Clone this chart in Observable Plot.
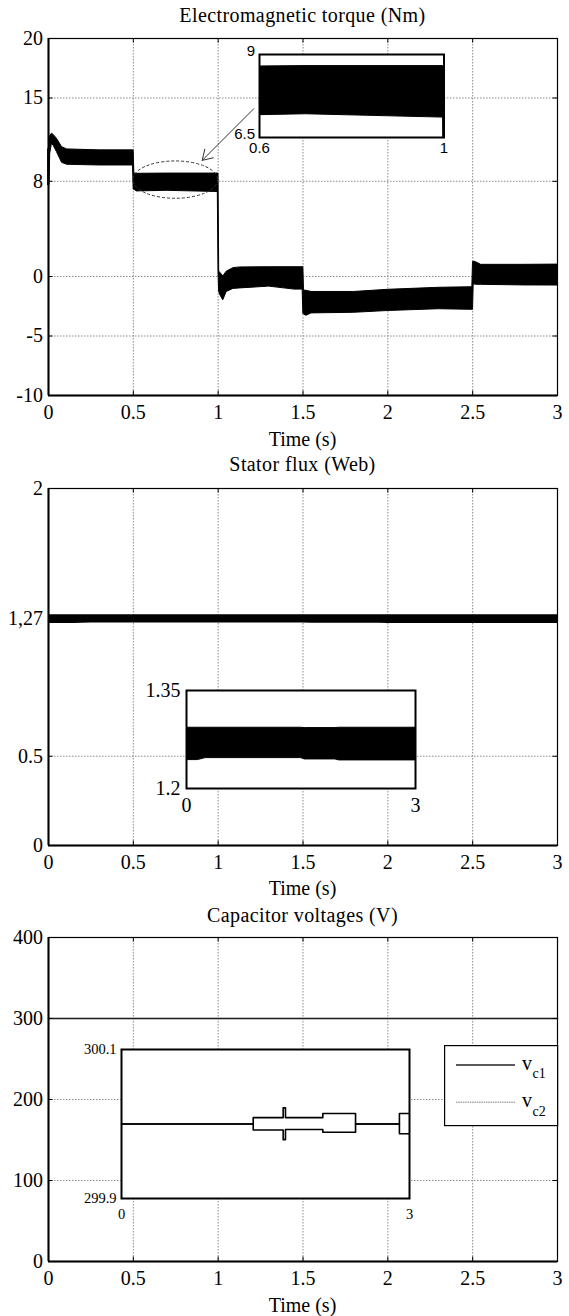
<!DOCTYPE html>
<html>
<head>
<meta charset="utf-8">
<script src="https://cdn.jsdelivr.net/npm/d3@7"></script>
<script src="https://cdn.jsdelivr.net/npm/@observablehq/plot@0.6"></script>
<style>
  html, body { margin: 0; padding: 0; background: #fff; }
  #root { position: relative; width: 569px; height: 1316px; overflow: hidden; font-family: "Liberation Serif", serif; color: #000; }
  .abs { position: absolute; }
  .lbl { position: absolute; left: 48px; width: 509px; text-align: center; font-size: 20px; line-height: 20px; white-space: nowrap; font-family: "Liberation Serif", serif; }
  .ttl { letter-spacing: 0.4px; }
</style>
</head>
<body>
<div id="root"></div>
<script>
// ---------------- DATA ----------------
const timeTicks = [0, 0.5, 1, 1.5, 2, 2.5, 3];

// Electromagnetic torque: envelope of the (dense, chattering) trace
const torqueT    = [0.000, 0.006, 0.010, 0.020, 0.030, 0.050, 0.080, 0.110, 0.300, 0.498, 0.502, 0.506, 0.520, 0.700, 0.998, 1.002, 1.006, 1.014, 1.030, 1.050, 1.090, 1.130, 1.300, 1.450, 1.498, 1.502, 1.506, 1.520, 1.550, 1.800, 2.000, 2.300, 2.498, 2.502, 2.506, 2.520, 2.550, 2.800, 3.000];
const torqueLow  = [7.65, 7.65, 10.3, 11.15, 11.0, 10.45, 9.55, 9.39, 9.33, 9.33, 7.30, 7.30, 7.15, 7.20, 7.10, 0.30, -1.30, -1.60, -2.00, -1.30, -1.04, -1.00, -0.85, -1.10, -1.10, -3.14, -3.20, -3.30, -3.10, -3.05, -2.90, -2.75, -2.80, -2.80, -0.65, -0.70, -0.70, -0.75, -0.76];
const torqueHigh = [10.7, 10.7, 11.8, 12.0, 11.9, 11.57, 10.87, 10.68, 10.6, 10.6, 10.6, 8.65, 8.63, 8.65, 8.65, 8.65, 0.40, 0.30, 0.00, 0.40, 0.70, 0.76, 0.78, 0.78, 0.78, 0.78, -1.18, -1.20, -1.30, -1.30, -1.12, -0.95, -0.90, 1.20, 1.26, 1.20, 0.98, 0.98, 1.00];
const torqueTicks = [-10, -5, 0, 8, 15, 20];
const torqueInsetX = [0.6, 1];
const torqueInsetY = [6.5, 9];
// annotation (data units): dashed ellipse around the 0.5–1 s segment, arrow to the zoom
const ellipseT = [0.5, 1.0];
const ellipseV = [6.53, 9.67];
const arrowFrom = [1.21, 14.1];
const arrowTo = [0.906, 9.76];

// Stator flux envelope
const fluxT    = [0, 0.15, 0.25, 1.5, 1.55, 1.95, 2.0, 3];
const fluxLow  = [1.2435, 1.2435, 1.2465, 1.2465, 1.2445, 1.2445, 1.243, 1.243];
const fluxHigh = [1.293, 1.293, 1.293, 1.293, 1.2925, 1.2925, 1.293, 1.293];
const fluxTicks = [0, 0.5, 1.27, 2];
const fluxTickLabels = ["0", "0.5", "1,27", "2"];
const fluxInsetX = [0, 3];
const fluxInsetY = [1.2, 1.35];

// Capacitor voltages
const vcT = [0, 1.372, 1.372, 1.684, 1.684, 1.708, 1.708, 2.097, 2.097, 2.438, 2.438, 2.895, 2.895, 3.0];
const vc1 = [300.0, 300.0, 300.0085, 300.0085, 300.0216, 300.0216, 300.0085, 300.0085, 300.014, 300.014, 300.0, 300.0, 300.014, 300.014];
const vc2 = [300.0, 300.0, 299.992, 299.992, 299.979, 299.979, 299.9926, 299.9926, 299.989, 299.989, 300.0, 300.0, 299.987, 299.987];
const vcTicks = [0, 100, 200, 300, 400];
const vcInsetX = [0, 3];
const vcInsetY = [299.9, 300.1];
const vcNames = ["c1", "c2"];

// ---------------- LAYOUT ----------------
const root = document.getElementById("root");
const W = 569, ML = 48, MR = 12, MT = 10, MB = 55;
const gridStyle = {stroke: "#8a8a8a", strokeOpacity: 1, strokeWidth: 1, strokeDasharray: "1.5,1.5"};

function place(el, left, top, z) {
  const d = document.createElement("div");
  d.className = "abs";
  d.style.left = left + "px";
  d.style.top = top + "px";
  if (z != null) d.style.zIndex = z;
  d.appendChild(el);
  root.appendChild(d);
  return d;
}
function label(text, centerY, cls) {
  const d = document.createElement("div");
  d.className = "lbl " + (cls || "");
  d.style.top = (centerY - 10) + "px";
  d.textContent = text;
  root.appendChild(d);
}

function panel({top, frameH, yDomain, yTicks, yFmt, marks}) {
  const [y0, y1] = yDomain;
  const tly = 4.5 * (y1 - y0) / frameH;
  const tlx = 4.5 * 3 / (W - ML - MR);
  const svg = Plot.plot({
    width: W, height: MT + frameH + MB,
    marginTop: MT, marginBottom: MB, marginLeft: ML, marginRight: MR,
    style: {background: "transparent", fontFamily: "'Liberation Serif', serif", fontSize: "20px", color: "black", overflow: "visible"},
    x: {domain: [0, 3]},
    y: {domain: yDomain},
    marks: [
      Plot.gridX(timeTicks, gridStyle),
      Plot.gridY(yTicks, gridStyle),
      ...marks,
      Plot.ruleX(timeTicks, {y1: y0, y2: y0 + tly, stroke: "black"}),
      Plot.ruleX(timeTicks, {y1: y1 - tly, y2: y1, stroke: "black"}),
      Plot.ruleY(yTicks, {x1: 0, x2: tlx, stroke: "black"}),
      Plot.ruleY(yTicks, {x1: 3 - tlx, x2: 3, stroke: "black"}),
      Plot.frame({stroke: "black", strokeWidth: 1.2}),
      Plot.ruleX([0], {stroke: "black", strokeWidth: 2}),
      Plot.ruleY([y0], {stroke: "black", strokeWidth: 2}),
      Plot.axisX(timeTicks, {tickSize: 0, tickPadding: 9, tickFormat: d => String(d), label: null, fontSize: 20, fontFamily: "Liberation Serif"}),
      Plot.axisY(yTicks, {tickSize: 0, tickPadding: 5.5, tickFormat: yFmt || (d => String(d)), label: null, fontSize: 20, fontFamily: "Liberation Serif"})
    ]
  });
  place(svg, 0, top - MT, 1);
  return svg;
}

function inset({left, top, w, h, xDomain, yDomain, xTicks, yTicks, yFmt, font, fontSize, padX, padY, dyY, marks}) {
  const ml = 60, mr = 14, mt = 12, mb = 32;
  const svg = Plot.plot({
    width: w + ml + mr, height: h + mt + mb,
    marginTop: mt, marginBottom: mb, marginLeft: ml, marginRight: mr,
    style: {background: "transparent", fontFamily: font, fontSize: fontSize + "px", color: "black", overflow: "visible"},
    x: {domain: xDomain},
    y: {domain: yDomain},
    marks: [
      Plot.frame({fill: "white", stroke: null}),
      ...marks,
      Plot.frame({stroke: "black", strokeWidth: 2}),
      Plot.axisX(xTicks, {tickSize: 0, tickPadding: padX, tickFormat: d => String(d), label: null, fontSize, fontFamily: font}),
      Plot.axisY(yTicks, {tickSize: 0, tickPadding: padY, dy: dyY || 0, tickFormat: yFmt || (d => String(d)), label: null, fontSize, fontFamily: font})
    ]
  });
  place(svg, left - ml, top - mt, 5);
  return svg;
}

// ---------------- PANEL 1: torque ----------------
label("Electromagnetic torque (Nm)", 15, "ttl");
const torqueIdx = {length: torqueT.length};
const p1 = panel({
  top: 38, frameH: 357, yDomain: [-10, 20], yTicks: torqueTicks,
  marks: [
    Plot.areaY(torqueIdx, {x: torqueT, y1: torqueLow, y2: torqueHigh, fill: "black", stroke: "black", strokeWidth: 1}),
    Plot.arrow([0], {x1: () => arrowFrom[0], y1: () => arrowFrom[1], x2: () => arrowTo[0], y2: () => arrowTo[1],
      stroke: "#333", strokeWidth: 1, headLength: 17, headAngle: 64})
  ]
});
{
  const sx = p1.scale("x"), sy = p1.scale("y");
  const cx = (sx.apply(ellipseT[0]) + sx.apply(ellipseT[1])) / 2;
  const cy = (sy.apply(ellipseV[0]) + sy.apply(ellipseV[1])) / 2;
  d3.select(p1).append("ellipse")
    .attr("cx", cx).attr("cy", cy)
    .attr("rx", Math.abs(sx.apply(ellipseT[1]) - sx.apply(ellipseT[0])) / 2)
    .attr("ry", Math.abs(sy.apply(ellipseV[1]) - sy.apply(ellipseV[0])) / 2)
    .attr("fill", "none").attr("stroke", "#333").attr("stroke-width", 1).attr("stroke-dasharray", "3,2");
}
label("Time (s)", 439);

inset({
  left: 258.5, top: 53.5, w: 184.5, h: 83,
  xDomain: [0.6, 1], yDomain: [6.5, 9], xTicks: torqueInsetX, yTicks: torqueInsetY,
  font: "Liberation Sans", fontSize: 15, padX: 5, padY: 4.5, dyY: -3,
  marks: [Plot.areaY(torqueIdx, {x: torqueT, y1: torqueLow, y2: torqueHigh, fill: "black", stroke: "black", strokeWidth: 1, clip: true})]
});

// ---------------- PANEL 2: stator flux ----------------
label("Stator flux (Web)", 464, "ttl");
const fluxIdx = {length: fluxT.length};
panel({
  top: 488, frameH: 357, yDomain: [0, 2], yTicks: fluxTicks,
  yFmt: d => fluxTickLabels[fluxTicks.indexOf(d)],
  marks: [Plot.areaY(fluxIdx, {x: fluxT, y1: fluxLow, y2: fluxHigh, fill: "black"})]
});
label("Time (s)", 888);

inset({
  left: 185.5, top: 690, w: 229, h: 98,
  xDomain: [0, 3], yDomain: [1.2, 1.35], xTicks: fluxInsetX, yTicks: fluxInsetY,
  font: "Liberation Serif", fontSize: 20, padX: 9, padY: 6,
  marks: [Plot.areaY(fluxIdx, {x: fluxT, y1: fluxLow, y2: fluxHigh, fill: "black", stroke: "black", strokeWidth: 1, clip: true})]
});

// ---------------- PANEL 3: capacitor voltages ----------------
label("Capacitor voltages (V)", 915, "ttl");
const vcIdx = {length: vcT.length};
panel({
  top: 937, frameH: 324, yDomain: [0, 400], yTicks: vcTicks,
  marks: [
    Plot.line(vcIdx, {x: vcT, y: vc1, stroke: "black", strokeWidth: 1.6}),
    Plot.line(vcIdx, {x: vcT, y: vc2, stroke: "#222", strokeWidth: 1.2})
  ]
});
label("Time (s)", 1305);

inset({
  left: 121, top: 1048.5, w: 288, h: 149,
  xDomain: [0, 3], yDomain: [299.9, 300.1], xTicks: vcInsetX, yTicks: vcInsetY,
  yFmt: d => d.toFixed(1),
  font: "Liberation Serif", fontSize: 14.5, padX: 10, padY: 5,
  marks: [
    Plot.line(vcIdx, {x: vcT, y: vc1, stroke: "black", strokeWidth: 1.6, clip: true}),
    Plot.line(vcIdx, {x: vcT, y: vc2, stroke: "black", strokeWidth: 1.6, clip: true})
  ]
});

// Legend box (overlaid on the plot, upper right)
{
  const lw = 113, lh = 80;
  const svg = d3.create("svg").attr("width", lw + 2).attr("height", lh + 2)
    .style("overflow", "visible").style("font-family", "'Liberation Serif', serif");
  svg.append("rect").attr("x", 0.6).attr("y", 0.6).attr("width", lw).attr("height", lh)
    .attr("fill", "white").attr("stroke", "black").attr("stroke-width", 1.2);
  const styles = [{stroke: "#5a5a5a", width: 2, dash: null}, {stroke: "#a8a8a8", width: 1.4, dash: "1.5,0.8"}];
  const rowY = [20, 57.3];
  vcNames.forEach((name, i) => {
    svg.append("line").attr("x1", 12).attr("x2", 71).attr("y1", rowY[i]).attr("y2", rowY[i])
      .attr("stroke", styles[i].stroke).attr("stroke-width", styles[i].width)
      .attr("stroke-dasharray", styles[i].dash);
    svg.append("text").attr("x", 78).attr("y", rowY[i] + 4.5).attr("font-size", 20).text("v");
    svg.append("text").attr("x", 88.5).attr("y", rowY[i] + 13.3).attr("font-size", 14).text(name);
  });
  place(svg.node(), 444, 1045, 6);
}
</script>
</body>
</html>
